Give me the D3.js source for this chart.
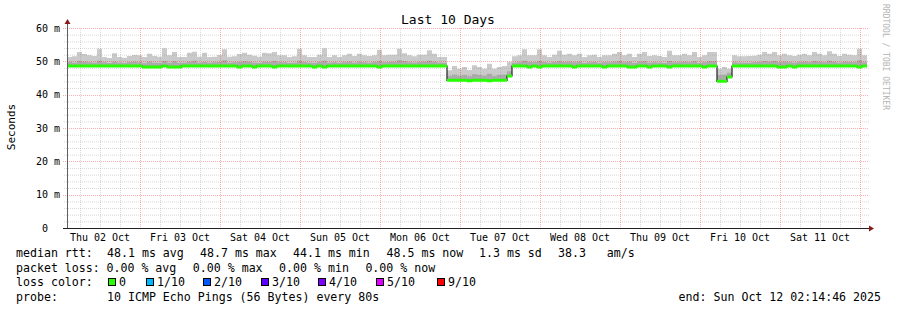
<!DOCTYPE html>
<html>
<head>
<meta charset="utf-8">
<script src="https://cdn.jsdelivr.net/npm/d3@7/dist/d3.min.js"></script>
<style>
body { margin: 0; background: #fff; }
svg { display: block; font-family: "DejaVu Sans Mono", monospace; }
text { white-space: pre; }
</style>
</head>
<body>
<svg id="chart" width="897" height="310"></svg>
<script>
// end of the 10 day window, one value every 90 minutes
const END_TIME = '2025-10-12T02:14:46Z'
const STEP_MINUTES = 90

// top of the smoke (slowest ping), ms
const maxRtt = [
    51.3, 51.5, 52.8, 52.2, 51.8, 51.6, 53.8, 51.3, 51.0, 52.4,
    51.3, 51.1, 51.6, 51.9, 51.8, 51.3, 52.3, 51.6, 51.4, 53.9,
    51.8, 52.8, 51.3, 51.3, 52.6, 52.9, 51.4, 52.6, 51.3, 51.4,
    51.9, 53.6, 51.4, 51.5, 52.2, 52.6, 52.0, 51.7, 51.4, 52.6,
    52.4, 52.8, 51.8, 51.8, 51.3, 51.5, 53.8, 51.8, 51.3, 51.3,
    52.0, 53.9, 51.3, 51.8, 51.3, 51.8, 52.3, 51.6, 52.3, 51.8,
    51.6, 51.8, 53.5, 51.8, 52.0, 52.0, 53.8, 52.4, 51.8, 51.5,
    52.0, 52.0, 53.3, 52.3, 51.3, 51.3, 47.3, 48.6, 47.8, 48.3,
    47.4, 48.8, 48.3, 47.8, 49.3, 47.8, 48.3, 48.6, 49.8, 51.5,
    51.8, 53.6, 51.8, 51.8, 53.6, 51.8, 51.3, 52.0, 53.2, 52.0,
    52.3, 51.8, 52.3, 51.3, 51.8, 52.0, 51.3, 51.8, 51.8, 52.3,
    52.8, 51.8, 52.3, 51.3, 52.3, 52.8, 51.6, 51.8, 51.6, 51.3,
    53.2, 51.8, 51.8, 52.3, 51.8, 52.8, 51.3, 51.8, 52.8, 52.8,
    47.8, 48.3, 47.8, 51.8, 51.5, 51.5, 51.6, 51.7, 52.0, 52.8,
    52.3, 52.8, 51.8, 52.3, 51.8, 51.6, 52.0, 52.3, 51.8, 52.8,
    52.3, 51.8, 53.0, 52.3, 51.6, 52.3, 52.0, 51.8, 53.8, 51.8,
]

// upper edge of the dense smoke, ms
const q3Rtt = [
    49.8, 49.6, 50.1, 49.9, 49.7, 49.6, 50.2, 49.7, 49.5, 49.9,
    49.6, 49.5, 49.8, 49.9, 49.7, 49.4, 49.9, 49.6, 49.5, 50.1,
    49.6, 50.0, 49.5, 49.6, 49.9, 50.2, 49.6, 49.8, 49.6, 49.7,
    49.8, 50.3, 49.6, 49.7, 49.8, 50.0, 49.9, 49.6, 49.5, 49.9,
    49.8, 50.1, 49.7, 49.7, 49.5, 49.6, 50.2, 49.8, 49.6, 49.5,
    49.8, 50.2, 49.6, 49.7, 49.5, 49.7, 49.9, 49.6, 49.9, 49.7,
    49.6, 49.8, 50.1, 49.7, 49.8, 49.9, 50.3, 50.0, 49.7, 49.6,
    49.8, 49.9, 50.2, 49.9, 49.6, 49.6, 45.6, 46.0, 45.7, 45.9,
    45.5, 46.1, 45.9, 45.7, 46.3, 45.6, 45.9, 46.0, 47.0, 49.6,
    49.7, 50.2, 49.8, 49.7, 50.1, 49.8, 49.6, 49.8, 50.0, 49.8,
    49.9, 49.7, 49.9, 49.5, 49.7, 49.8, 49.5, 49.7, 49.7, 49.9,
    50.1, 49.7, 49.9, 49.5, 49.9, 50.0, 49.6, 49.7, 49.6, 49.5,
    50.1, 49.7, 49.7, 49.9, 49.7, 50.0, 49.5, 49.7, 50.0, 50.0,
    45.8, 46.0, 46.6, 49.7, 49.6, 49.6, 49.6, 49.7, 49.8, 50.1,
    49.9, 50.1, 49.7, 49.9, 49.7, 49.6, 49.8, 49.9, 49.7, 50.1,
    49.9, 49.7, 50.2, 49.9, 49.6, 49.9, 49.8, 49.7, 50.3, 49.7,
]

// median rtt, ms
const medianRtt = [
    48.6, 48.6, 48.6, 48.6, 48.6, 48.6, 48.6, 48.6, 48.6, 48.6,
    48.6, 48.6, 48.6, 48.6, 48.6, 48.3, 48.3, 48.3, 48.3, 48.6,
    48.3, 48.3, 48.3, 48.6, 48.6, 48.6, 48.6, 48.6, 48.6, 48.6,
    48.6, 48.6, 48.6, 48.6, 48.3, 48.6, 48.6, 48.3, 48.6, 48.6,
    48.6, 48.3, 48.6, 48.6, 48.6, 48.6, 48.6, 48.6, 48.6, 48.3,
    48.6, 48.3, 48.6, 48.6, 48.6, 48.6, 48.6, 48.6, 48.6, 48.6,
    48.6, 48.6, 48.3, 48.6, 48.6, 48.6, 48.6, 48.6, 48.6, 48.6,
    48.6, 48.6, 48.6, 48.6, 48.6, 48.6, 44.3, 44.3, 44.3, 44.3,
    44.2, 44.3, 44.3, 44.3, 44.2, 44.3, 44.3, 44.3, 45.6, 48.6,
    48.6, 48.6, 48.3, 48.6, 48.3, 48.6, 48.6, 48.6, 48.6, 48.6,
    48.6, 48.3, 48.6, 48.6, 48.6, 48.6, 48.6, 48.3, 48.6, 48.6,
    48.6, 48.6, 48.3, 48.3, 48.6, 48.6, 48.3, 48.6, 48.6, 48.6,
    48.3, 48.6, 48.6, 48.6, 48.6, 48.6, 48.6, 48.3, 48.6, 48.6,
    44.0, 44.0, 45.3, 48.6, 48.6, 48.6, 48.6, 48.6, 48.6, 48.6,
    48.6, 48.6, 48.3, 48.3, 48.6, 48.3, 48.6, 48.6, 48.6, 48.6,
    48.6, 48.6, 48.6, 48.6, 48.6, 48.6, 48.6, 48.6, 48.3, 48.6,
]

const yTicks = [0, 10, 20, 30, 40, 50, 60]

const statsRtt = ['48.1 ms avg', '48.7 ms max', '44.1 ms min', '48.5 ms now', '1.3 ms sd', '38.3   am/s']
const statsLoss = ['0.00 % avg', '0.00 % max', '0.00 % min', '0.00 % now']
const lossLabels = ['0', '1/10', '2/10', '3/10', '4/10', '5/10', '9/10']
const lossColors = ['#26ff00', '#00b8ff', '#0059ff', '#5e00ff', '#7e00ff', '#dd00ff', '#ff0000']
const probeText = '10 ICMP Echo Pings (56 Bytes) every 80s'
const endText = 'end: Sun Oct 12 02:14:46 2025'

const PLOT = { left: 67, right: 867, top: 28, bottom: 228 }

const endTime = new Date(END_TIME)
const startTime = d3.utcDay.offset(endTime, -10)

const data = medianRtt.map((m, i) => ({
    t: d3.utcMinute.offset(startTime, i * STEP_MINUTES),
    median: m,
    q3: q3Rtt[i],
    max: maxRtt[i],
}))
// close the last step at the end of the window
data.push({ ...data[data.length - 1], t: endTime })

const x = d3.scaleUtc().domain([startTime, endTime]).range([PLOT.left, PLOT.right])
const y = d3.scaleLinear().domain([0, 60]).range([PLOT.bottom, PLOT.top])

const svg = d3.select('#chart')

svg.append('text')
    .attr('x', 448)
    .attr('y', 24)
    .attr('text-anchor', 'middle')
    .attr('font-size', 13)
    .text('Last 10 Days')

// smoke
svg.append('path')
    .datum(data)
    .attr('fill', '#cacaca')
    .attr('d', d3.area().curve(d3.curveStepAfter)
        .x(d => x(d.t)).y0(d => y(d.median)).y1(d => y(d.max)))

svg.append('path')
    .datum(data)
    .attr('fill', '#ababab')
    .attr('d', d3.area().curve(d3.curveStepAfter)
        .x(d => x(d.t)).y0(d => y(d.median)).y1(d => y(d.q3)))

// grid
const grid = svg.append('g')
const minorY = d3.range(0, 61, 2).filter(v => v % 10 !== 0)
const majorY = yTicks.filter(v => v !== 0)
const MINOR_COLOR = 'rgba(140,140,140,0.32)'
const MAJOR_COLOR = 'rgba(255,0,0,0.32)'

grid.selectAll('.minor-y')
    .data(minorY)
    .join('line')
    .attr('x1', PLOT.left - 3).attr('x2', PLOT.right + 2)
    .attr('y1', d => y(d) + 0.5).attr('y2', d => y(d) + 0.5)
    .attr('stroke', MINOR_COLOR)
    .attr('stroke-dasharray', '1,1')

const minorX = d3.utcHour.every(6).range(startTime, endTime)
    .filter(d => d.getUTCHours() !== 0)
const majorX = d3.utcDay.range(startTime, endTime)

grid.selectAll('.minor-x')
    .data(minorX)
    .join('line')
    .attr('x1', d => Math.round(x(d)) + 0.5).attr('x2', d => Math.round(x(d)) + 0.5)
    .attr('y1', PLOT.top).attr('y2', PLOT.bottom)
    .attr('stroke', MINOR_COLOR)
    .attr('stroke-dasharray', '1,1')

grid.selectAll('.major-y')
    .data(majorY)
    .join('line')
    .attr('x1', PLOT.left - 4).attr('x2', PLOT.right + 2)
    .attr('y1', d => Math.round(y(d)) + 0.5).attr('y2', d => Math.round(y(d)) + 0.5)
    .attr('stroke', MAJOR_COLOR)
    .attr('stroke-dasharray', '1,1')

grid.selectAll('.major-x')
    .data(majorX)
    .join('line')
    .attr('x1', d => Math.round(x(d)) + 0.5).attr('x2', d => Math.round(x(d)) + 0.5)
    .attr('y1', PLOT.top).attr('y2', PLOT.bottom)
    .attr('stroke', MAJOR_COLOR)
    .attr('stroke-dasharray', '1,1')

// median: dark step line, then the loss coloured band over it
svg.append('path')
    .datum(data)
    .attr('fill', 'none')
    .attr('stroke', '#202020')
    .attr('stroke-width', 1.2)
    .attr('d', d3.line().curve(d3.curveStepAfter).x(d => x(d.t)).y(d => y(d.median)))

svg.append('path')
    .datum(data)
    .attr('fill', lossColors[0])
    .attr('d', d3.area().curve(d3.curveStepAfter)
        .x(d => x(d.t)).y0(d => y(d.median) + 1.5).y1(d => y(d.median) - 1.5))

// axes
const yAxis = d3.axisLeft(y)
    .tickValues(yTicks)
    .tickSize(0)
    .tickPadding(0)
    .tickFormat(d => d === 0 ? '0  ' : `${d} m`)

svg.append('g')
    .attr('transform', 'translate(60,0)')
    .call(yAxis)
    .call(g => g.select('.domain').remove())
    .selectAll('text')
    .attr('font-family', '"DejaVu Sans Mono", monospace')
    .attr('font-size', 10)
    .attr('fill', '#000')

const noons = d3.utcDay.range(d3.utcDay.floor(startTime), endTime)
    .map(d => d3.utcHour.offset(d, 12))
    .filter(d => d > startTime && d < endTime)

const xAxis = d3.axisBottom(x)
    .tickValues(noons)
    .tickSize(0)
    .tickFormat(d3.utcFormat('%a %d %b'))

svg.append('g')
    .attr('transform', `translate(0,${PLOT.bottom})`)
    .call(xAxis)
    .call(g => g.select('.domain').remove())
    .selectAll('text')
    .attr('y', 13)
    .attr('dy', 0)
    .attr('font-family', '"DejaVu Sans Mono", monospace')
    .attr('font-size', 10)
    .attr('fill', '#000')

svg.append('line')
    .attr('x1', PLOT.left + 0.5).attr('x2', PLOT.left + 0.5)
    .attr('y1', PLOT.bottom).attr('y2', PLOT.top - 5)
    .attr('stroke', '#606060')

svg.append('line')
    .attr('x1', PLOT.left - 4).attr('x2', PLOT.right + 2)
    .attr('y1', PLOT.bottom + 0.5).attr('y2', PLOT.bottom + 0.5)
    .attr('stroke', '#202020')

svg.append('path')
    .attr('d', `M${PLOT.left - 2.5},${PLOT.top - 4}L${PLOT.left + 3.5},${PLOT.top - 4}L${PLOT.left + 0.5},${PLOT.top - 9}Z`)
    .attr('fill', '#8b1a1a')

svg.append('path')
    .attr('d', `M${PLOT.right + 2},${PLOT.bottom - 2.5}L${PLOT.right + 2},${PLOT.bottom + 3.5}L${PLOT.right + 7},${PLOT.bottom + 0.5}Z`)
    .attr('fill', '#8b1a1a')

svg.append('text')
    .attr('transform', 'translate(15,127) rotate(-90)')
    .attr('text-anchor', 'middle')
    .attr('font-size', 11)
    .text('Seconds')

svg.append('text')
    .attr('transform', 'translate(883,4) rotate(90)')
    .attr('font-size', 8)
    .attr('fill', '#b4b4b4')
    .text('RRDTOOL / TOBI OETIKER')

// legend
const legend = svg.append('g').attr('font-size', 11.6).attr('fill', '#000')

legend.append('text').attr('x', 16).attr('y', 257).text('median rtt:')
legend.selectAll('.rtt')
    .data(statsRtt)
    .join('text')
    .attr('x', (d, i) => [107, 200, 293, 386.5, 479, 558][i])
    .attr('y', 257)
    .text(d => d)

legend.append('text').attr('x', 16).attr('y', 271.5).text('packet loss:')
legend.selectAll('.loss')
    .data(statsLoss)
    .join('text')
    .attr('x', (d, i) => 106.5 + i * 86.3)
    .attr('y', 271.5)
    .text(d => d)

legend.append('text').attr('x', 16).attr('y', 286).text('loss color:')
const swatchX = [108, 146, 203, 261, 318, 376, 437]
const swatches = legend.selectAll('.swatch')
    .data(lossLabels)
    .join('g')
    .attr('transform', (d, i) => `translate(${swatchX[i]},0)`)

swatches.append('rect')
    .attr('x', 0.5).attr('y', 278.5)
    .attr('width', 7).attr('height', 7)
    .attr('fill', (d, i) => lossColors[i])
    .attr('stroke', '#000')

swatches.append('text')
    .attr('x', 11)
    .attr('y', 286)
    .text(d => d)

legend.append('text').attr('x', 16).attr('y', 300.5).text('probe:')
legend.append('text').attr('x', 107).attr('y', 300.5).text(probeText)
legend.append('text').attr('x', 881).attr('y', 300.5).attr('text-anchor', 'end').text(endText)
</script>
</body>
</html>
